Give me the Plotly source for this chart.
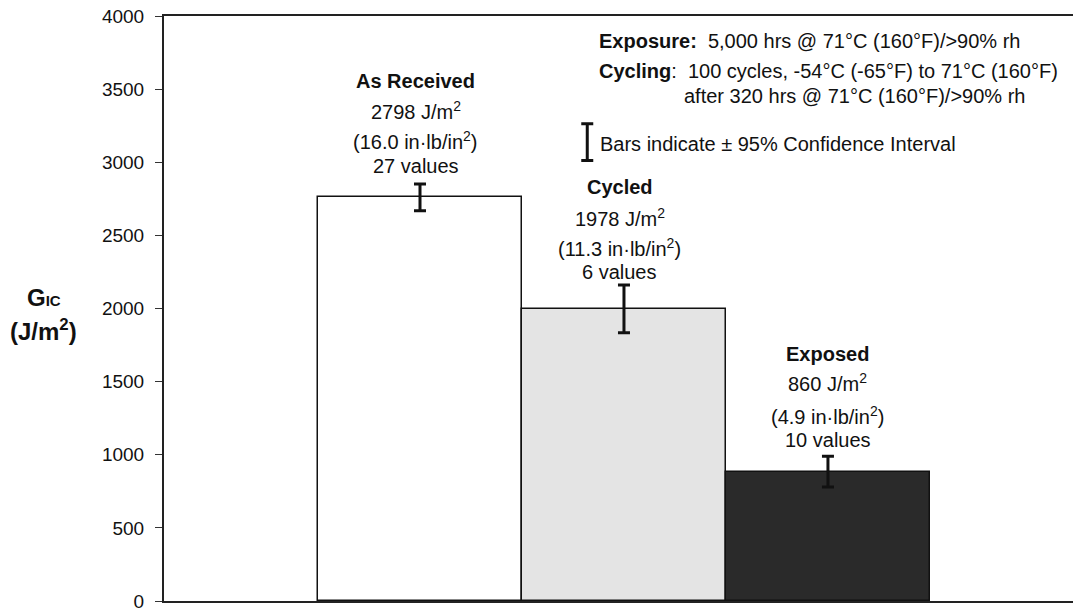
import plotly.graph_objects as go

# ---- data ----
categories = ["As Received", "Cycled", "Exposed"]
positions = [0, 1, 2]
gic_values = [2760, 1997, 884]          # bar heights (J/m^2)
ci_95 = [92, 163, 105]                   # +/- 95% confidence interval
label_values = ["2798 J/m<sup>2</sup>", "1978 J/m<sup>2</sup>", "860 J/m<sup>2</sup>"]
label_inlb = ["(16.0 in·lb/in<sup>2</sup>)", "(11.3 in·lb/in<sup>2</sup>)", "(4.9 in·lb/in<sup>2</sup>)"]
label_counts = ["27 values", "6 values", "10 values"]
bar_colors = ["#ffffff", "#e4e4e4", "#2a2a2a"]
y_ticks = [0, 500, 1000, 1500, 2000, 2500, 3000, 3500, 4000]

# label line positions (data units) for each bar: title, J/m2, in-lb, count
label_x = [-0.02, 0.98, 2.0]
label_y = [[3557, 3352, 3148, 2971],
           [2828, 2624, 2419, 2249],
           [1690, 1492, 1267, 1104]]

FONT = "Liberation Sans, Arial, sans-serif"
TXT = 20

fig = go.Figure()
fig.add_trace(go.Bar(
    x=positions, y=gic_values, width=1.0,
    marker=dict(color=bar_colors, line=dict(color="#111111", width=1.5)),
    error_y=dict(type="data", array=ci_95, visible=True,
                 color="#111111", thickness=3, width=6),
    showlegend=False, hoverinfo="skip",
))

# legend sample error bar
legend_x = [0.82]
legend_y = [3138]
legend_err = [126]
fig.add_trace(go.Scatter(
    x=legend_x, y=legend_y, mode="markers",
    marker=dict(size=1, color="rgba(0,0,0,0)"),
    error_y=dict(type="data", array=legend_err, visible=True,
                 color="#111111", thickness=3, width=6),
    showlegend=False, hoverinfo="skip",
))

anns = []
for i in range(3):
    texts = ["<b>%s</b>" % categories[i], label_values[i], label_inlb[i], label_counts[i]]
    for t, yy in zip(texts, label_y[i]):
        anns.append(dict(x=label_x[i], y=yy, xref="x", yref="y", text=t,
                         showarrow=False, xanchor="center", yanchor="middle",
                         font=dict(family=FONT, size=TXT, color="#111111")))

anns.append(dict(x=0.873, y=3128, xref="x", yref="y",
                 text="Bars indicate ± 95% Confidence Interval",
                 showarrow=False, xanchor="left", yanchor="middle",
                 font=dict(family=FONT, size=TXT, color="#111111")))
anns.append(dict(x=0.868, y=3830, xref="x", yref="y",
                 text="<b>Exposure:</b>  5,000 hrs @ 71°C (160°F)/>90% rh",
                 showarrow=False, xanchor="left", yanchor="middle",
                 font=dict(family=FONT, size=TXT, color="#111111")))
anns.append(dict(x=0.868, y=3625, xref="x", yref="y",
                 text="<b>Cycling</b>:  100 cycles, -54°C (-65°F) to 71°C (160°F)",
                 showarrow=False, xanchor="left", yanchor="middle",
                 font=dict(family=FONT, size=TXT, color="#111111")))
anns.append(dict(x=1.284, y=3455, xref="x", yref="y",
                 text="after 320 hrs @ 71°C (160°F)/>90% rh",
                 showarrow=False, xanchor="left", yanchor="middle",
                 font=dict(family=FONT, size=TXT, color="#111111")))

# y-axis title
anns.append(dict(x=-0.1316, y=0.519, xref="paper", yref="paper",
                 text="<b>G<span style='font-size:15px'>IC</span></b>",
                 showarrow=False, xanchor="center", yanchor="middle",
                 font=dict(family=FONT, size=24, color="#111111")))
anns.append(dict(x=-0.1316, y=0.463, xref="paper", yref="paper",
                 text="<b>(J/m<sup>2</sup>)</b>",
                 showarrow=False, xanchor="center", yanchor="middle",
                 font=dict(family=FONT, size=24, color="#111111")))

# the page body has an 8px default margin, so the figure is sized to fit
fig.update_layout(
    width=1073, height=603,
    margin=dict(l=156, r=5, t=8, b=10, autoexpand=False),
    paper_bgcolor="white", plot_bgcolor="white",
    bargap=0,
    annotations=anns,
    xaxis=dict(range=[-1.255, 3.216], showticklabels=False, ticks="",
               showgrid=False, zeroline=False, showline=True, automargin=False,
               linecolor="#222222", linewidth=2, mirror=True, fixedrange=True),
    yaxis=dict(range=[0, 4000], tickvals=y_ticks, automargin=False,
               ticks="outside", ticklen=7, tickcolor="#333333", tickwidth=1,
               ticklabelstandoff=7, ticklabeloverflow="allow",
               tickfont=dict(family=FONT, size=19, color="#111111"),
               showgrid=False, zeroline=False, showline=True,
               linecolor="#222222", linewidth=2, mirror=True, fixedrange=True),
)

fig.write_html("out.html")
